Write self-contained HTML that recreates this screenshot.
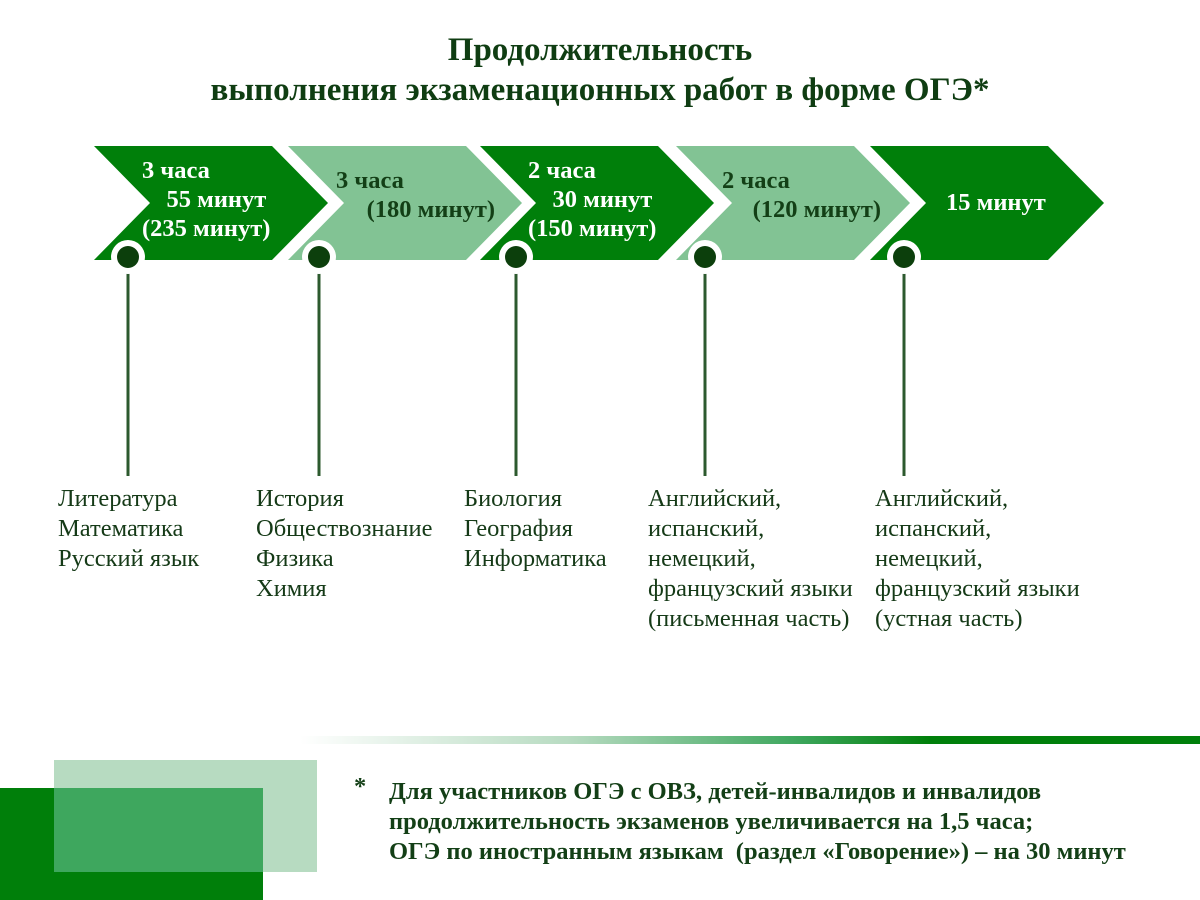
<!DOCTYPE html>
<html><head><meta charset="utf-8"><style>
body{margin:0;width:1200px;height:900px;background:#fff;position:relative;overflow:hidden;font-family:"Liberation Serif",serif;}
.t{position:absolute;white-space:nowrap;}
.title{left:0;width:1200px;text-align:center;font-weight:bold;font-size:33px;color:#0f3d12;line-height:40px;top:30px;}
.ch{font-weight:bold;font-size:24.5px;line-height:29px;}
.w{color:#fff}.d{color:#133f16}
.sub{font-size:24.5px;line-height:30px;color:#153a17;}
.note{font-weight:bold;font-size:24.5px;line-height:30px;color:#133f16;}
</style></head><body>
<div class="t title">Продолжительность<br>выполнения экзаменационных работ в форме ОГЭ*</div>
<svg width="1200" height="900" style="position:absolute;left:0;top:0">
<defs><linearGradient id="g" x1="0" x2="1"><stop offset="0" stop-color="#fff"/><stop offset="0.3" stop-color="#b7dbc1"/><stop offset="0.55" stop-color="#3ea75e"/><stop offset="0.7" stop-color="#007f0a"/><stop offset="1" stop-color="#007f0a"/></linearGradient></defs>
<polygon points="94,146 272,146 328,203 272,260 94,260 150,203" fill="#007f0a"/>
<polygon points="288,146 466,146 522,203 466,260 288,260 344,203" fill="#82c394"/>
<polygon points="480,146 658,146 714,203 658,260 480,260 536,203" fill="#007f0a"/>
<polygon points="676,146 854,146 910,203 854,260 676,260 732,203" fill="#82c394"/>
<polygon points="870,146 1048,146 1104,203 1048,260 870,260 926,203" fill="#007f0a"/>
<g stroke="#2c5a2e" stroke-width="3">
<line x1="128" y1="260" x2="128" y2="476"/><line x1="319" y1="260" x2="319" y2="476"/><line x1="516" y1="260" x2="516" y2="476"/><line x1="705" y1="260" x2="705" y2="476"/><line x1="904" y1="260" x2="904" y2="476"/></g>
<g fill="#fff"><circle cx="128" cy="257" r="17"/><circle cx="319" cy="257" r="17"/><circle cx="516" cy="257" r="17"/><circle cx="705" cy="257" r="17"/><circle cx="904" cy="257" r="17"/></g>
<g fill="#0c3f0c"><circle cx="128" cy="257" r="11"/><circle cx="319" cy="257" r="11"/><circle cx="516" cy="257" r="11"/><circle cx="705" cy="257" r="11"/><circle cx="904" cy="257" r="11"/></g>
<rect x="300" y="736" width="900" height="8" fill="url(#g)"/>
<rect x="54" y="760" width="263" height="112" fill="#b7dbc1"/>
<rect x="0" y="788" width="263" height="112" fill="#007f0a"/>
<rect x="54" y="788" width="209" height="84" fill="#3ea75e"/>
</svg>
<div class="t ch w" style="left:142px;top:156px">3 часа<br>&nbsp;&nbsp;&nbsp;&nbsp;55 минут<br>(235 минут)</div>
<div class="t ch d" style="left:336px;top:166px">3 часа<br>&nbsp;&nbsp;&nbsp;&nbsp;&nbsp;(180 минут)</div>
<div class="t ch w" style="left:528px;top:156px">2 часа<br>&nbsp;&nbsp;&nbsp;&nbsp;30 минут<br>(150 минут)</div>
<div class="t ch d" style="left:722px;top:166px">2 часа<br>&nbsp;&nbsp;&nbsp;&nbsp;&nbsp;(120 минут)</div>
<div class="t ch w" style="left:946px;top:188px">15 минут</div>
<div class="t sub" style="left:58px;top:484px">Литература<br>Математика<br>Русский язык</div>
<div class="t sub" style="left:256px;top:484px">История<br>Обществознание<br>Физика<br>Химия</div>
<div class="t sub" style="left:464px;top:484px">Биология<br>География<br>Информатика</div>
<div class="t sub" style="left:648px;top:484px">Английский,<br>испанский,<br>немецкий,<br>французский языки<br>(письменная часть)</div>
<div class="t sub" style="left:875px;top:484px">Английский,<br>испанский,<br>немецкий,<br>французский языки<br>(устная часть)</div>
<div class="t note" style="left:354px;top:772px">*</div>
<div class="t note" style="left:389px;top:777px">Для участников ОГЭ с ОВЗ, детей-инвалидов и инвалидов<br>продолжительность экзаменов увеличивается на 1,5 часа;<br>ОГЭ по иностранным языкам&nbsp; (раздел «Говорение») – на 30 минут</div>
</body></html>
